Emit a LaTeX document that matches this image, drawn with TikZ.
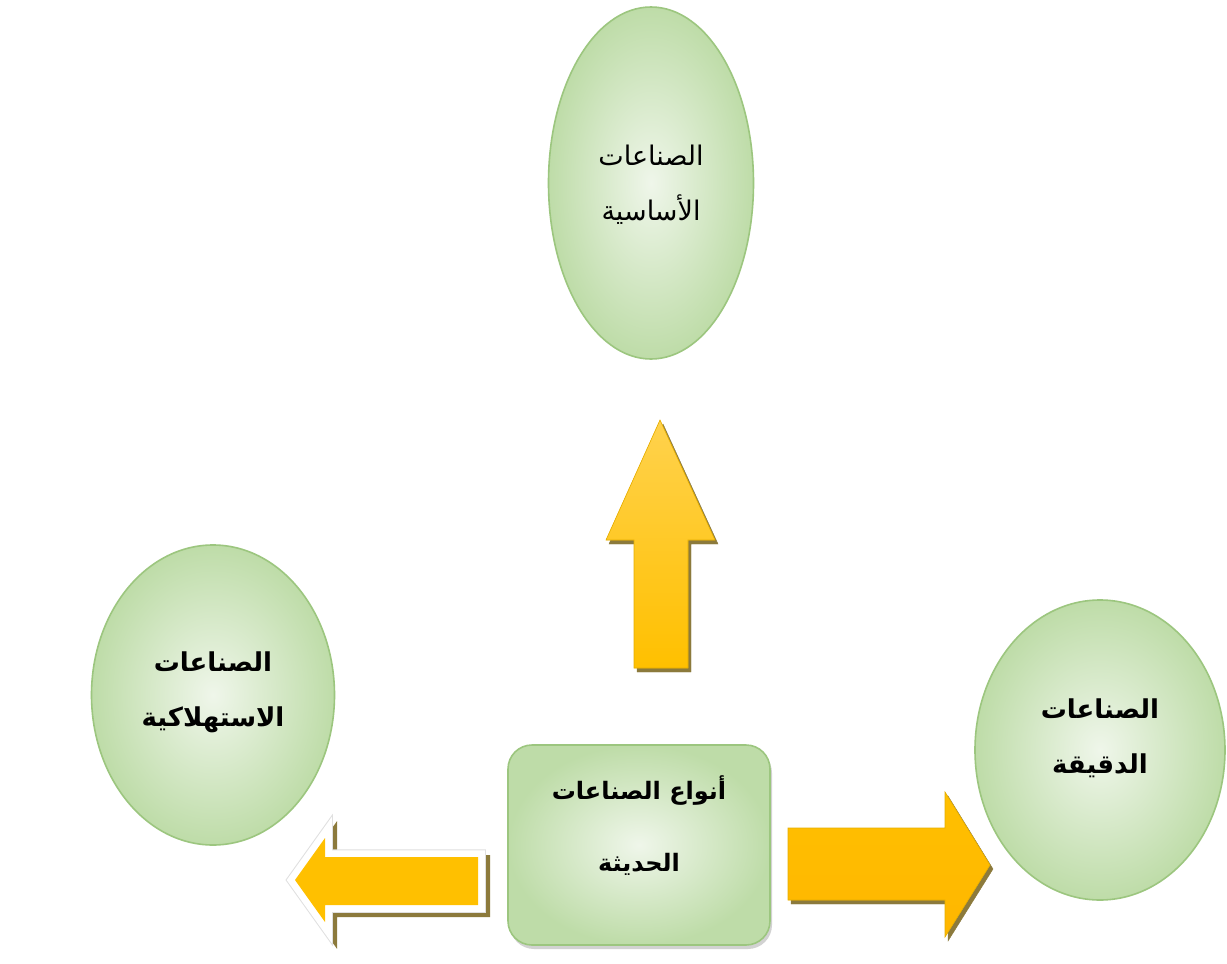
\documentclass[tikz,border=0pt]{standalone}
\usepackage{fontspec}
\newfontfamily\arabicfont[Script=Arabic]{DejaVu Sans}
\TeXXeTstate=1
\usetikzlibrary{shapes.geometric,shadows}
\definecolor{gedge}{HTML}{BEDCA8}
\definecolor{gin}{HTML}{EFF6EA}
\definecolor{gline}{HTML}{9CC67F}
\definecolor{aor}{HTML}{FFC000}
\definecolor{aorl}{HTML}{FFD24D}
\definecolor{ashad}{HTML}{8C7A3C}
\tikzset{
  oval/.style={ellipse, draw=gline, line width=1.6pt, inner color=gin, outer color=gedge},
  txt/.style={font=\arabicfont\bfseries\fontsize{26}{55}\selectfont, align=center, text=black},
  txtl/.style={font=\arabicfont\fontsize{27}{55}\selectfont, align=center, text=black},
  boxn/.style={rounded corners=24pt, draw=gline, line width=1.6pt, inner color=gin, outer color=gedge,
    drop shadow={shadow xshift=2pt, shadow yshift=-4pt, fill=black!35}},
  arr/.style={fill=aor, draw=aor!90!black, line width=0.6pt, line join=miter},
  arrshad/.style={fill=ashad, draw=ashad}
}
\begin{document}
\begin{tikzpicture}[x=1pt,y=-1pt]
\useasboundingbox[fill=white] (0,0) rectangle (1227,964);
% ellipses
\node[oval, minimum width=205pt, minimum height=352pt] (base) at (651,183) {};
\node[txtl] (tbase) at ([yshift=-2pt]base.center) {\beginR الصناعات\endR\\\beginR الأساسية\endR};
\node[oval, minimum width=243pt, minimum height=300pt] (cons) at (213,695) {};
\node[txt] (tcons) at ([yshift=3pt]cons.center) {\beginR الصناعات\endR\\\beginR الاستهلاكية\endR};
\node[oval, minimum width=250pt, minimum height=300pt] (prec) at (1100,750) {};
\node[txt] (tprec) at ([yshift=12pt]prec.center) {\beginR الصناعات\endR\\\beginR الدقيقة\endR};
% central box
\node[boxn, minimum width=262pt, minimum height=200pt] (types) at (639,845) {};
\node[txt, font=\arabicfont\bfseries\fontsize{24}{72}\selectfont] (ttypes) at ([yshift=19pt]types.center) {\beginR أنواع الصناعات\endR\\\beginR الحديثة\endR};
% up arrow
\coordinate (ut) at (660,420);
\fill[arrshad] ([shift={(3,4)}]ut) -- (718,544) -- (691,544) -- (691,672) -- (637,672) -- (637,544) -- (609,544) -- cycle;
\filldraw[arr, top color=aorl, bottom color=aor] (ut) -- (715,540) -- (688,540) -- (688,668) -- (634,668) -- (634,540) -- (606,540) -- cycle;
% right arrow
\coordinate (rt) at (990,865);
\fill[arrshad] ([shift={(3,4)}]rt) -- (948,941) -- (948,904) -- (791,904) -- (791,832) -- (948,832) -- (948,796) -- cycle;
\filldraw[arr, top color=aor, bottom color=aor!85!orange] (rt) -- (945,937) -- (945,900) -- (788,900) -- (788,828) -- (945,828) -- (945,792) -- cycle;
% left arrow
\coordinate (lt) at (295,880);
\draw[arrshad, line width=14pt, line join=miter] ([shift={(5,5)}]lt) -- (330,843) -- (330,862) -- (483,862) -- (483,910) -- (330,910) -- (330,927) -- cycle;
\draw[fill=white, draw=black!12, line width=15.5pt, line join=miter] (lt) -- (325,838) -- (325,857) -- (478,857) -- (478,905) -- (325,905) -- (325,922) -- cycle;
\draw[fill=white, draw=white, line width=13.5pt, line join=miter] (lt) -- (325,838) -- (325,857) -- (478,857) -- (478,905) -- (325,905) -- (325,922) -- cycle;
\fill[aor] (lt) -- (325,838) -- (325,857) -- (478,857) -- (478,905) -- (325,905) -- (325,922) -- cycle;
\end{tikzpicture}
\end{document}
